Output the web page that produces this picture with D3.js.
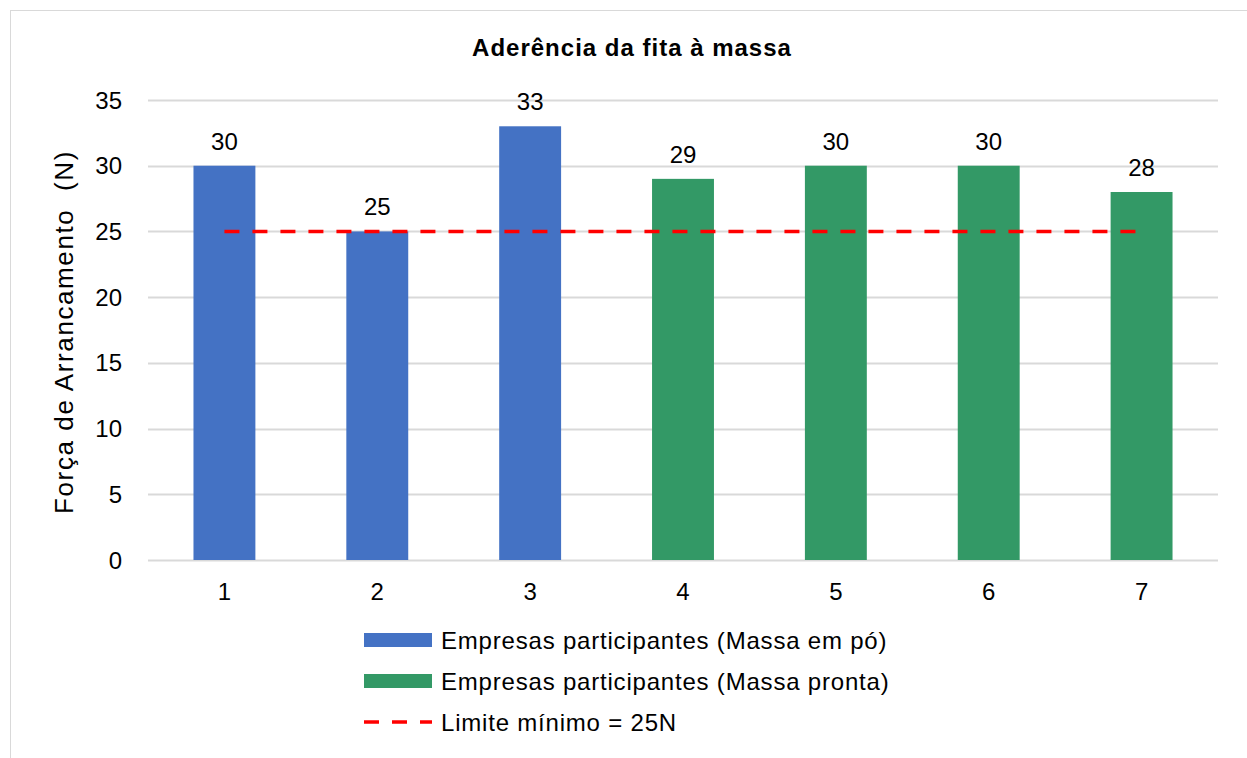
<!DOCTYPE html>
<html>
<head>
<meta charset="utf-8">
<script src="https://cdn.jsdelivr.net/npm/d3@7"></script>
<style>
  body { margin: 0; background: #fff; }
  text { font-family: "Liberation Sans", Arial, sans-serif; fill: #000; font-size: 24px; }
</style>
</head>
<body>
<svg id="chart" width="1247" height="758"></svg>
<script>
// chart data
var categories = ["1", "2", "3", "4", "5", "6", "7"];
var values = [30, 25, 33, 29, 30, 30, 28];
var groups = ["po", "po", "po", "pronta", "pronta", "pronta", "pronta"];
var limit = 25;
var yTicks = [0, 5, 10, 15, 20, 25, 30, 35];
var legendLabels = [
  "Empresas participantes (Massa em pó)",
  "Empresas participantes (Massa pronta)",
  "Limite mínimo = 25N"
];

var colors = { po: "#4472C4", pronta: "#339966" };

var svg = d3.select("#chart");

// outer chart border (runs past the viewport on right/bottom)
svg.append("rect")
  .attr("x", 10.5).attr("y", 10.5)
  .attr("width", 1260).attr("height", 780)
  .style("fill", "none")
  .style("stroke", "#d9d9d9")
  .style("stroke-width", 1);

var plotLeft = 148, plotRight = 1218, plotTop = 100, plotBottom = 560;

var x = d3.scaleBand()
  .domain(categories)
  .range([plotLeft, plotRight])
  .paddingInner(0.595)
  .paddingOuter(0.2975);

var y = d3.scaleLinear()
  .domain([0, 35])
  .range([plotBottom, plotTop]);

// title
svg.append("text")
  .attr("x", 632).attr("y", 56)
  .attr("text-anchor", "middle")
  .style("font-weight", "bold")
  .style("letter-spacing", "1px")
  .text("Aderência da fita à massa");

// gridlines
svg.append("g").selectAll("line")
  .data(yTicks)
  .enter()
  .append("line")
  .attr("x1", plotLeft).attr("x2", plotRight)
  .attr("y1", function (d) { return Math.round(y(d)) + 0.5; })
  .attr("y2", function (d) { return Math.round(y(d)) + 0.5; })
  .style("stroke", "#d9d9d9")
  .style("stroke-width", 2);

// y tick labels
svg.append("g").selectAll("text")
  .data(yTicks)
  .enter()
  .append("text")
  .attr("x", 122)
  .attr("y", function (d) { return y(d) + 8.5; })
  .attr("text-anchor", "end")
  .text(function (d) { return d; });

// y axis title (double space kept as in the original)
svg.append("text")
  .attr("transform", "translate(73,332) rotate(-90)")
  .attr("text-anchor", "middle")
  .style("font-size", "26px")
  .style("white-space", "pre")
  .style("letter-spacing", "1.6px")
  .text("Força de Arrancamento  (N)");

// bars
svg.append("g").selectAll("rect")
  .data(values)
  .enter()
  .append("rect")
  .attr("x", function (d, i) { return x(categories[i]); })
  .attr("y", function (d) { return y(d); })
  .attr("width", x.bandwidth())
  .attr("height", function (d) { return y(0) - y(d); })
  .style("fill", function (d, i) { return colors[groups[i]]; });

// bar value labels
svg.append("g").selectAll("text")
  .data(values)
  .enter()
  .append("text")
  .attr("x", function (d, i) { return x(categories[i]) + x.bandwidth() / 2; })
  .attr("y", function (d) { return y(d) - 16; })
  .attr("text-anchor", "middle")
  .text(function (d) { return d; });

// x tick labels
svg.append("g").selectAll("text")
  .data(categories)
  .enter()
  .append("text")
  .attr("x", function (d) { return x(d) + x.bandwidth() / 2; })
  .attr("y", 600)
  .attr("text-anchor", "middle")
  .text(function (d) { return d; });

// limit line
var line = d3.line()
  .x(function (d) { return x(d) + x.bandwidth() / 2; })
  .y(function () { return y(limit); });
svg.append("path")
  .datum(categories)
  .attr("d", line)
  .style("fill", "none")
  .style("stroke", "#FF0000")
  .style("stroke-width", 3.5)
  .style("stroke-dasharray", "15,13");

// legend
var legend = svg.append("g").attr("transform", "translate(364,0)");
var rowY = [640, 681, 722];
legend.append("rect")
  .attr("x", 0).attr("y", rowY[0] - 7)
  .attr("width", 68).attr("height", 14)
  .style("fill", colors.po);
legend.append("rect")
  .attr("x", 0).attr("y", rowY[1] - 7)
  .attr("width", 68).attr("height", 14)
  .style("fill", colors.pronta);
legend.append("line")
  .attr("x1", 0).attr("x2", 68)
  .attr("y1", rowY[2]).attr("y2", rowY[2])
  .style("stroke", "#FF0000")
  .style("stroke-width", 3.5)
  .style("stroke-dasharray", "15,13");
legend.selectAll("text.lbl")
  .data(legendLabels)
  .enter()
  .append("text")
  .attr("class", "lbl")
  .attr("x", 77)
  .attr("y", function (d, i) { return rowY[i] + 8.5; })
  .style("letter-spacing", "0.8px")
  .text(function (d) { return d; });
</script>
</body>
</html>
